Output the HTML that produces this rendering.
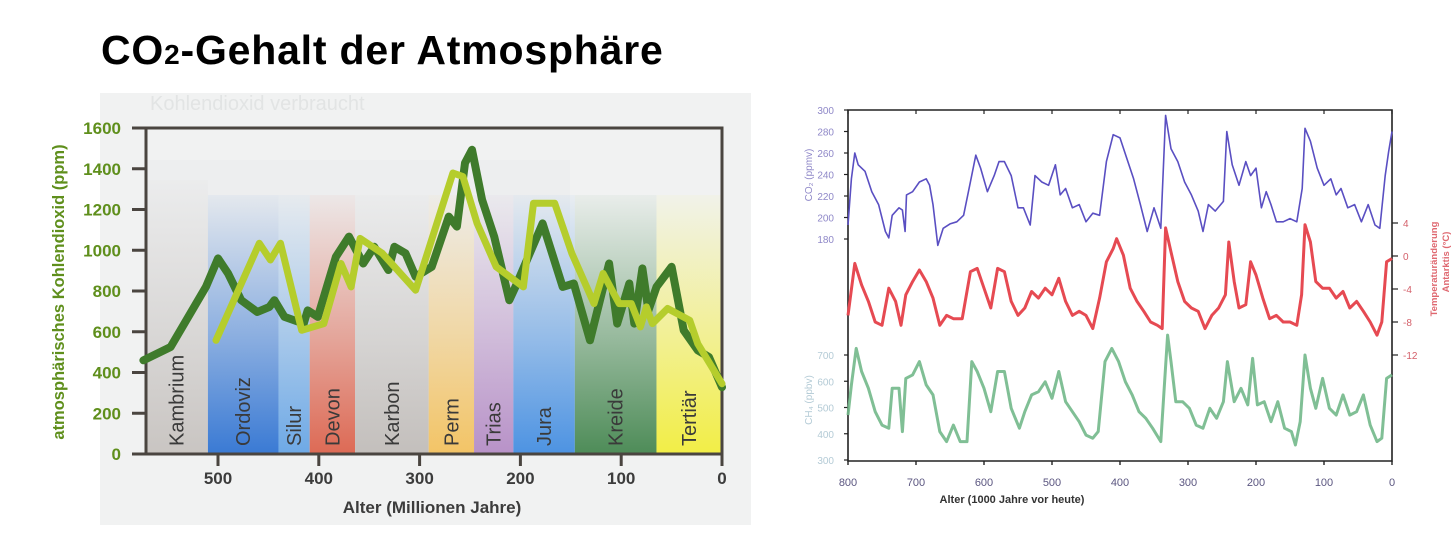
<!DOCTYPE html>
<html><head><meta charset="utf-8">
<style>
html,body{margin:0;padding:0;background:#fff;width:1452px;height:539px;overflow:hidden;font-family:"Liberation Sans",Arial,sans-serif}
#title{position:absolute;left:101px;top:27px;font-size:41px;font-weight:bold;color:#000;white-space:nowrap;letter-spacing:0.8px}
#title sub{font-size:28px;vertical-align:baseline}
svg{position:absolute;left:0;top:0}
</style></head>
<body>
<div id="title">CO<sub>2</sub>-Gehalt der Atmosphäre</div>
<svg id="chart" width="1452" height="539"></svg>
<script>
// ---------- Left chart data (Millionen Jahre, ppm) ----------
const periodNames = ["Kambrium","Ordoviz","Silur","Devon","Karbon","Perm","Trias","Jura","Kreide","Tertiär"];
const periodStart = [572,510,440,409,364,291,246,207,146,65];
const periodEnd   = [510,440,409,364,291,246,207,146,65,0];
const periodColors = ["#c9c5c2","#3a7ad4","#6ea9e6","#dd6a55","#c3bfbc","#f3c466","#b892c8","#4d93e2","#4e8c58","#f2ee46"];
const leftYTicks = [0,200,400,600,800,1000,1200,1400,1600];
const leftXTicks = [500,400,300,200,100,0];
const darkAge = [574,547,512,500,490,477,461,449,444,434,415,411,401,383,370,356,345,331,325,314,304,288,271,263,255,248,238,226,211,205,178,158,147,131,112,104,92,87,79,73,65,50,38,24,13,0];
const darkPpm = [460,525,820,960,886,755,697,722,755,673,640,705,673,968,1067,935,1017,903,1017,985,870,919,1165,1116,1428,1493,1247,1067,755,820,1132,820,837,558,935,640,837,640,911,705,820,919,607,509,476,328];
const lightAge = [502,459,448,438,417,395,378,368,359,337,304,267,257,243,224,197,187,166,149,127,118,102,90,81,75,69,54,32,24,0];
const lightPpm = [558,1034,952,1034,607,640,935,820,1058,985,804,1379,1362,1132,919,820,1231,1231,985,738,886,738,738,624,722,640,714,656,541,345];

// ---------- Right chart data (1000 Jahre) ----------
const co2Age = [800,795,790,785,775,765,755,745,740,735,725,720,716,714,705,695,685,680,675,668,660,650,640,630,620,612,605,595,585,578,570,560,550,542,532,525,515,505,495,488,480,470,460,450,440,430,420,410,400,390,380,370,360,350,340,333,325,315,305,295,285,278,270,260,248,243,235,225,215,208,200,192,185,178,170,160,150,140,132,128,120,110,100,90,82,75,65,55,45,35,25,18,10,5,0];
const co2Val = [193,236,260,249,243,224,212,187,181,202,209,207,187,221,224,233,236,230,212,174,190,194,196,202,233,258,246,224,239,252,252,239,209,209,193,239,233,230,249,221,227,209,212,196,204,202,252,277,274,255,236,212,187,209,190,295,264,252,233,221,206,187,212,206,215,280,249,230,252,239,246,209,224,212,196,196,199,196,227,283,271,246,230,236,221,227,209,212,196,212,193,190,239,261,280];
const tempAge = [800,790,780,770,760,750,740,730,722,715,705,695,685,675,665,655,645,632,620,610,600,590,580,570,560,550,540,530,520,510,500,490,480,470,460,450,440,430,420,410,405,395,385,375,365,355,345,338,333,325,315,305,295,285,275,265,255,245,240,232,225,215,208,200,190,180,170,160,150,140,133,128,120,112,102,92,82,72,62,52,42,32,22,15,8,0];
const tempVal = [-7.2,-0.9,-3.5,-5.5,-8,-8.4,-3.9,-5.5,-8.4,-4.7,-3.1,-1.7,-3.1,-5.1,-8.4,-7.2,-7.6,-7.6,-1.9,-1.5,-3.9,-6.3,-1.5,-1.9,-5.5,-7.2,-6.3,-4.3,-5.1,-3.9,-4.7,-2.7,-5.5,-7.2,-6.7,-7.2,-8.8,-5.1,-0.7,0.9,2.1,0.1,-3.9,-5.5,-6.7,-8,-8.4,-8.8,3.4,0.5,-3.1,-5.5,-6.3,-6.7,-8.8,-7.2,-6.3,-4.7,1.7,-3.1,-6.3,-5.9,-0.7,-2.3,-5.1,-7.6,-7.2,-8,-8,-8.4,-4.7,3.8,1.7,-3.1,-3.9,-3.9,-5.1,-4.3,-6.3,-5.5,-6.7,-8,-9.6,-8,-0.7,-0.3];
const ch4Age = [800,795,788,780,770,760,750,740,735,725,720,715,705,695,685,675,665,655,645,635,625,618,610,600,590,580,570,560,548,540,530,520,510,500,490,480,470,460,450,440,432,422,412,402,392,382,372,362,352,340,335,330,325,318,308,298,288,278,268,258,248,242,232,222,212,205,198,188,178,168,158,148,142,135,128,120,112,102,92,82,72,62,52,42,32,22,15,8,0];
const ch4Val = [471,586,725,637,573,484,433,421,573,573,408,611,624,675,586,548,408,370,433,370,370,675,637,573,484,637,637,497,421,484,548,560,598,535,637,522,484,446,395,383,408,675,725,675,598,548,484,459,421,370,573,776,675,522,522,497,433,421,497,459,522,675,522,573,510,687,510,522,446,522,421,408,357,446,700,573,497,611,497,471,548,471,484,548,433,370,383,611,624];
const rXTicks = [800,700,600,500,400,300,200,100,0];
const co2Ticks = [180,200,220,240,260,280,300];
const tempTicks = [4,0,-4,-8,-12];
const ch4Ticks = [300,400,500,600,700];

const NS="http://www.w3.org/2000/svg";
const svg=document.getElementById('chart');
function mk(tag,attrs,parent){const e=document.createElementNS(NS,tag);for(const k in attrs)e.setAttribute(k,attrs[k]);(parent||svg).appendChild(e);return e;}

function LX(a){return 722-a*(722-218)/500;}
function LY(v){return 454-v*(454-128)/1600;}

const defs=mk('defs',{});
const lbg=mk('rect',{x:100,y:93,width:651,height:432,fill:'#f1f2f2'});


const ghost=mk('text',{x:150,y:110,'font-size':20,fill:'#e2e4e4'});
ghost.textContent='Kohlendioxid verbraucht';


mk('rect',{x:146,y:160,width:424,height:294,fill:'#e9eaeb',opacity:0.5});

periodNames.forEach((n,i)=>{
  const g=mk('linearGradient',{id:'pg'+i,x1:0,y1:0,x2:0,y2:1},defs);
  mk('stop',{offset:'0','stop-color':periodColors[i],'stop-opacity':'0.05'},g);
  mk('stop',{offset:'0.55','stop-color':periodColors[i],'stop-opacity':'0.55'},g);
  mk('stop',{offset:'1','stop-color':periodColors[i],'stop-opacity':'1'},g);
  const x1=LX(periodStart[i]),x2=LX(periodEnd[i]);
  const top=i===0?180:195;
  const r=mk('rect',{x:x1,y:top,width:x2-x1,height:454-top,fill:'url(#pg'+i+')'});
  
  
  const cx=(x1+x2)/2+7;
  const t=mk('text',{x:cx,y:446,transform:'rotate(-90 '+cx+' 446)','font-size':20,fill:'#3a3a3a'});
  t.textContent=n;
  
  
});

mk('path',{d:'M146 128 H722 V454 M146 128 V454 H722',fill:'none',stroke:'#4a4540','stroke-width':3});
leftYTicks.forEach(v=>{
  mk('line',{x1:132,x2:146,y1:LY(v),y2:LY(v),stroke:'#4a4540','stroke-width':3});
  const t=mk('text',{x:121,y:LY(v)+6,'text-anchor':'end','font-size':17,'font-weight':'bold',fill:'#5f8f1c'});
  t.textContent=v;
  
  
});
leftXTicks.forEach(v=>{
  mk('line',{x1:LX(v),x2:LX(v),y1:454,y2:466,stroke:'#4a4540','stroke-width':3});
  const t=mk('text',{x:LX(v),y:484,'text-anchor':'middle','font-size':17,'font-weight':'bold',fill:'#3c3c3c'});
  t.textContent=v;
  
  
});
const lxt=mk('text',{x:432,y:513,'text-anchor':'middle','font-size':17,'font-weight':'bold',fill:'#3c3c3c'});
lxt.textContent='Alter (Millionen Jahre)';


const lyt=mk('text',{x:0,y:0,transform:'translate(64 292) rotate(-90)','text-anchor':'middle','font-size':16.5,'font-weight':'bold',fill:'#5f8f1c'});
lyt.textContent='atmosphärisches Kohlendioxid (ppm)';



function poly(ages,vals,fx,fy){return ages.map((a,i)=>fx(a).toFixed(1)+','+fy(vals[i]).toFixed(1)).join(' ');}
const dark=mk('polyline',{points:poly(darkAge,darkPpm,LX,LY),fill:'none',stroke:'#3f7b2b','stroke-width':8,'stroke-linejoin':'round','stroke-linecap':'round'});


const light=mk('polyline',{points:poly(lightAge,lightPpm,LX,LY),fill:'none',stroke:'#b5cd2c','stroke-width':7,'stroke-linejoin':'round','stroke-linecap':'round'});



// ---------- Right chart ----------
function RX(a){return 848+(800-a)*(1392-848)/800;}
function CY(v){return 110+(300-v)*(239-110)/120;}
function TY(v){return 256-v*8.25;}
function MY(v){return 460-(v-300)*(460-355)/400;}

mk('path',{d:'M848 110 H1392 V461 H848 Z',fill:'none',stroke:'#222','stroke-width':1.6});
rXTicks.forEach(v=>{
  mk('line',{x1:RX(v),x2:RX(v),y1:461,y2:465,stroke:'#222','stroke-width':1.4});
  mk('line',{x1:RX(v),x2:RX(v),y1:110,y2:114,stroke:'#222','stroke-width':1.2});
  const t=mk('text',{x:RX(v),y:486,'text-anchor':'middle','font-size':11,fill:'#5b5680'});
  t.textContent=v;
  
  
});
co2Ticks.forEach(v=>{
  mk('line',{x1:844,x2:848,y1:CY(v),y2:CY(v),stroke:'#222','stroke-width':1.2});
  const t=mk('text',{x:834,y:CY(v)+4,'text-anchor':'end','font-size':10,fill:'#8f88c8'});
  t.textContent=v;
  
  
});
ch4Ticks.forEach(v=>{
  mk('line',{x1:844,x2:848,y1:MY(v),y2:MY(v),stroke:'#222','stroke-width':1.2});
  const t=mk('text',{x:834,y:MY(v)+4,'text-anchor':'end','font-size':10,fill:'#b4cbd6'});
  t.textContent=v;
  
  
});
tempTicks.forEach(v=>{
  mk('line',{x1:1392,x2:1398,y1:TY(v),y2:TY(v),stroke:'#222','stroke-width':1.2});
  const t=mk('text',{x:1403,y:TY(v)+4,'font-size':10,fill:'#d4606a'});
  t.textContent=v;
  
  
});
const rxt=mk('text',{x:1012,y:503,'text-anchor':'middle','font-size':11,'font-weight':'bold',fill:'#333'});
rxt.textContent='Alter (1000 Jahre vor heute)';


const cyt=mk('text',{x:0,y:0,transform:'translate(812 175) rotate(-90)','text-anchor':'middle','font-size':10,fill:'#8f88c8'});
cyt.textContent='CO₂ (ppmv)';


const myt=mk('text',{x:0,y:0,transform:'translate(812 400) rotate(-90)','text-anchor':'middle','font-size':10,fill:'#b4cbd6'});
myt.textContent='CH₄ (ppbv)';


const tyt=mk('text',{x:0,y:0,transform:'translate(1437 269) rotate(-90)','text-anchor':'middle','font-size':9.5,'font-weight':'bold',fill:'#df6870'});
tyt.textContent='Temperaturänderung';


const tyt2=mk('text',{x:0,y:0,transform:'translate(1449 262) rotate(-90)','text-anchor':'middle','font-size':9.5,'font-weight':'bold',fill:'#df6870'});
tyt2.textContent='Antarktis (°C)';



const ch4=mk('polyline',{points:poly(ch4Age,ch4Val,RX,MY),fill:'none',stroke:'#72b88a','stroke-width':3,'stroke-linejoin':'round',opacity:0.9});


const tmp=mk('polyline',{points:poly(tempAge,tempVal,RX,TY),fill:'none',stroke:'#e64a52','stroke-width':3,'stroke-linejoin':'round'});


const co2=mk('polyline',{points:poly(co2Age,co2Val,RX,CY),fill:'none',stroke:'#5a4fc2','stroke-width':1.6,'stroke-linejoin':'round'});


</script>
</body></html>
